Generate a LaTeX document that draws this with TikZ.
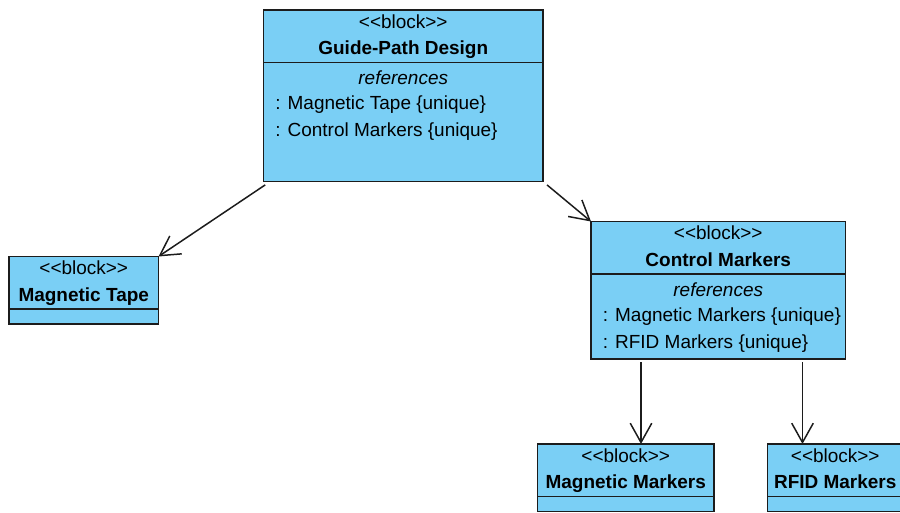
\documentclass[tikz,border=0pt]{standalone}
\usepackage{fontspec}
\setmainfont{Liberation Sans}[Ligatures=TeXOff]
\usetikzlibrary{positioning,arrows.meta}
\definecolor{blockfill}{RGB}{122,207,245}
\definecolor{linecol}{RGB}{28,28,28}
\begin{document}
\begin{tikzpicture}[font=\fontsize{10.8}{14.8}\selectfont,
  blockhead/.style={draw=linecol, fill=blockfill, line width=1pt, outer sep=0pt, inner sep=0pt, minimum height=1.052cm, align=center, anchor=north west},
  blockbody/.style={draw=linecol, fill=blockfill, line width=1pt, outer sep=0pt, inner sep=0pt},
  reflabel/.style={font=\fontsize{10.8}{14.8}\selectfont\itshape, inner sep=0pt, anchor=base},
  attr/.style={inner sep=0pt, anchor=base west},
  assoc/.style={draw=linecol, line width=0.85pt, -{Straight Barb[length=0.385cm,width=0.43cm]}}]
\useasboundingbox (0,0) rectangle (18,10.24);
% blocks: name compartment on top, references compartment below
\node[blockhead, minimum width=5.59cm] (gphead) at (5.27,10.04) {<<block>>\strut\\\textbf{Guide-Path Design}\strut};
\node[blockbody, minimum width=5.59cm, minimum height=2.38cm, below=0pt of gphead] (gpbody) {};
\node[reflabel] (gpref) at ([yshift=-0.44cm]gpbody.north) {references};
\node[attr] (gpattr1) at ([shift={(0.23,-0.94)}]gpbody.north west) {: Magnetic Tape \{unique\}};
\node[attr] (gpattr2) at ([shift={(0.23,-1.47)}]gpbody.north west) {: Control Markers \{unique\}};

\node[blockhead, minimum width=2.99cm] (mthead) at (0.18,5.11) {<<block>>\strut\\\textbf{Magnetic Tape}\strut};
\node[blockbody, minimum width=2.99cm, minimum height=0.3cm, below=0pt of mthead] (mtbody) {};

\node[blockhead, minimum width=5.09cm] (cmhead) at (11.82,5.81) {<<block>>\strut\\\textbf{Control Markers}\strut};
\node[blockbody, minimum width=5.09cm, minimum height=1.7cm, below=0pt of cmhead] (cmbody) {};
\node[reflabel] (cmref) at ([yshift=-0.44cm]cmbody.north) {references};
\node[attr] (cmattr1) at ([shift={(0.23,-0.95)}]cmbody.north west) {: Magnetic Markers \{unique\}};
\node[attr] (cmattr2) at ([shift={(0.23,-1.48)}]cmbody.north west) {: RFID Markers \{unique\}};

\node[blockhead, minimum width=3.53cm] (mmhead) at (10.75,1.36) {<<block>>\strut\\\textbf{Magnetic Markers}\strut};
\node[blockbody, minimum width=3.53cm, minimum height=0.3cm, below=0pt of mmhead] (mmbody) {};

\node[blockhead, minimum width=2.71cm] (rfhead) at (15.35,1.36) {<<block>>\strut\\\textbf{RFID Markers}\strut};
\node[blockbody, minimum width=2.71cm, minimum height=0.3cm, below=0pt of rfhead] (rfbody) {};

% directed associations
\coordinate (mmfrom) at ([shift={(1.0,-0.06)}]cmbody.south west);
\coordinate (rffrom) at ([shift={(-0.86,-0.06)}]cmbody.south east);
\path[assoc] ([shift={(0.034,-0.066)}]gpbody.south west) -- (mthead.north east);
\path[assoc] ([shift={(0.08,-0.066)}]gpbody.south east) -- (cmhead.north west);
\path[assoc] (mmfrom) -- (mmfrom |- mmhead.north);
\path[assoc] (rffrom) -- (rffrom |- rfhead.north);
\end{tikzpicture}
\end{document}
